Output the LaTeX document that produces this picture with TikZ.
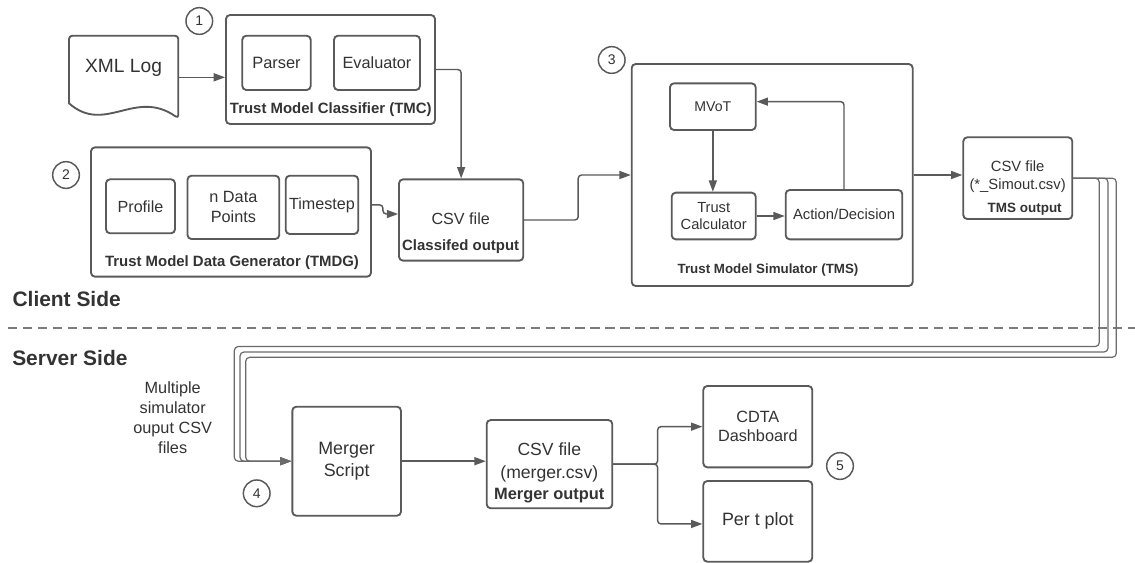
\documentclass[tikz,border=0pt]{standalone}
\usepackage{fontspec}
\setmainfont{Liberation Sans}
\usetikzlibrary{arrows.meta,calc}

\definecolor{linec}{HTML}{5A5A5A}
\definecolor{textc}{HTML}{333333}
\definecolor{wirec}{HTML}{6A6A6A}
\definecolor{dashc}{HTML}{7C7C7C}

\newcommand\fsz[2]{\fontsize{#1pt}{#2pt}\selectfont}

\tikzset{
  box/.style={draw=linec, line width=1.4pt, rounded corners=3pt, fill=white,
              inner sep=0pt, align=center, text=textc},
  lbl/.style={text=textc, inner sep=0pt, align=center},
  num/.style={circle, draw=linec, line width=1.1pt, minimum size=20pt,
              inner sep=0pt, text=textc, font=\fsz{10.5}{12}},
  tip/.style={-{Triangle[length=8.5pt,width=6pt]}},
  arr/.style={draw=linec, line width=1.1pt, rounded corners=2.5pt, tip},
  wire/.style={draw=wirec, line width=0.9pt, rounded corners=3pt, tip},
  docline/.style={draw=linec, line width=1.4pt, fill=white},
  sidelbl/.style={lbl, anchor=west, font=\bfseries\fsz{15.7}{18}},
  grouplbl/.style={lbl, font=\bfseries\fsz{11.2}{13}},
}

\begin{document}
\begin{tikzpicture}[x=0.75pt, y=-0.75pt]
\useasboundingbox (0,0) rectangle (1135,562);
\fill[white] (0,0) rectangle (1135,562);

% ---------- client side ----------
% XML log document
\draw[docline, rounded corners=2.5pt] (69,103.3) -- (69,35.7) -- (178.3,35.7) -- (178.3,118.3)
   [sharp corners] .. controls (135,88) and (105,135) .. (69,103.3) -- cycle;
\node[lbl, font=\fsz{14.4}{17}] (xml) at (123.6,68.3) {XML Log};
\coordinate (xmlout) at (178.3,77.3);

% Trust Model Classifier
\node[box, minimum width=156.75pt, minimum height=81.75pt] (tmc) at (330.5,69.5) {};
\node[box, minimum width=51.3pt, minimum height=40.7pt, font=\fsz{12.3}{15}] (parser) at (276.5,62.85) {Parser};
\node[box, minimum width=64.5pt, minimum height=40.7pt, font=\fsz{12.2}{15}] (evaluator) at (377,62.85) {Evaluator};
\node[grouplbl] (tmclbl) at (330.8,110) {Trust Model Classifier (TMC)};
\node[num] (n1) at (199.3,21) {1};

% Trust Model Data Generator
\node[box, minimum width=210pt, minimum height=97pt] (tmdg) at (231,212) {};
\node[box, minimum width=51.75pt, minimum height=40.5pt, font=\fsz{12.1}{15}] (profile) at (140.5,206.3) {Profile};
\node[box, minimum width=68.85pt, minimum height=47.5pt, font=\fsz{12.2}{15}] (ndata) at (233.4,207.35) {n Data\\Points};
\node[box, minimum width=54.4pt, minimum height=43.7pt, font=\fsz{12.1}{15}] (timestep) at (321.95,204.85) {Timestep};
\node[grouplbl] (tmdglbl) at (232,262.7) {Trust Model Data Generator (TMDG)};
\node[num] (n2) at (66,175) {2};

% classified output
\node[box, minimum width=93.2pt, minimum height=61pt] (csv1) at (461.15,220) {};
\node[lbl, font=\fsz{12.1}{14}] (csv1a) at (460.7,218.3) {CSV file};
\node[grouplbl] (csv1b) at (460.7,246.7) {Classifed output};

% Trust Model Simulator
\node[box, minimum width=210.75pt, minimum height=166.5pt] (tms) at (772.2,175) {};
\node[box, minimum width=64.3pt, minimum height=35pt, font=\fsz{10.6}{13}] (mvot) at (712.85,106.65) {MVoT};
\node[box, minimum width=63pt, minimum height=35pt, font=\fsz{11}{12.5}] (tcalc) at (713.7,216) {Trust\\Calculator};
\node[box, minimum width=87.45pt, minimum height=37pt, font=\fsz{11.1}{13}] (action) at (844,214.65) {Action/Decision};
\node[lbl, font=\bfseries\fsz{10}{12}] (tmslbl) at (768,270) {Trust Model Simulator (TMS)};
\node[num] (n3) at (611.7,60) {3};

% simulator output
\node[box, minimum width=81.75pt, minimum height=61.3pt] (simout) at (1017.8,178.15) {};
\node[lbl, font=\fsz{11.1}{14}] (simouta) at (1017.6,176.6) {CSV file\\(*\_Simout.csv)};
\node[lbl, font=\bfseries\fsz{10.1}{12}] (simoutb) at (1024.7,209.3) {TMS output};

% ---------- separator ----------
\node[sidelbl] (client) at (12.3,299.3) {Client Side};
\draw[dashc, line width=1.5pt, dash pattern=on 7pt off 4.2pt] (8,328.3) -- (1135,328.3);
\node[sidelbl] (server) at (12,358.3) {Server Side};

% ---------- server side ----------
\node[lbl, font=\fsz{12.2}{15}] (multi) at (172.7,417.7) {Multiple\\simulator\\ouput CSV\\files};
\node[box, minimum width=81.5pt, minimum height=81.75pt, font=\fsz{13.4}{16.3}] (merger) at (346.65,461.2) {Merger\\Script};
\node[num] (n4) at (256.7,493.3) {4};

\node[box, minimum width=94.2pt, minimum height=66.2pt] (csv2) at (549.5,464.15) {};
\node[lbl, font=\fsz{13.2}{17.4}] (csv2a) at (549.3,462.7) {CSV file\\(merger.csv)};
\node[lbl, font=\bfseries\fsz{12.3}{14}] (csv2b) at (549.3,496) {Merger output};

\node[box, minimum width=81.75pt, minimum height=61pt, font=\fsz{12.2}{14.5}] (cdta) at (757.8,426.65) {CDTA\\Dashboard};
\node[box, minimum width=81.75pt, minimum height=60.5pt, font=\fsz{13.4}{16}] (pert) at (757.8,521.35) {Per t plot};
\node[num] (n5) at (840,466) {5};

% ---------- connectors ----------
\draw[arr] (xmlout) -- (xmlout -| tmc.west);
\draw[arr] (tmc.east) -| (csv1.north);
\draw[arr] (tmdg.east |- timestep.center) -- ++(11,0) |- ($(csv1.west)+(0,-6)$);
\draw[arr] (csv1.east) -- ++(54,0) |- (tms.west);
\draw[arr] (tms.east) -- (tms.east -| simout.west);
\draw[arr] (mvot.south) -- (mvot.south |- tcalc.north);
\draw[arr] (tcalc.east) -- (tcalc.east -| action.west);
\draw[arr] (action.north) |- ($(mvot.east)+(0,-5)$);

% bundle of simulator outputs routed back to the merger
\coordinate (w1r) at (1099.3,346.5);
\coordinate (w1l) at (234.3,346.5);
\coordinate (w2r) at (1108,352);
\coordinate (w2l) at (240,352);
\coordinate (w3r) at (1116.3,357.3);
\coordinate (w3l) at (245.7,357.3);
\draw[wire] (simout.east) -| (w1r) -- (w1l) |- (merger.west);
\draw[wire] (simout.east) -| (w2r) -- (w2l) |- (merger.west);
\draw[wire] (simout.east) -| (w3r) -- (w3l) |- (merger.west);

\draw[arr] (merger.east) -- (merger.east -| csv2.west);
\draw[arr] (csv2.east) -- ++(44.4,0) |- (cdta.west);
\draw[arr] (csv2.east) -- ++(44.4,0) |- ($(pert.west)+(0,2.6)$);
\end{tikzpicture}
\end{document}
